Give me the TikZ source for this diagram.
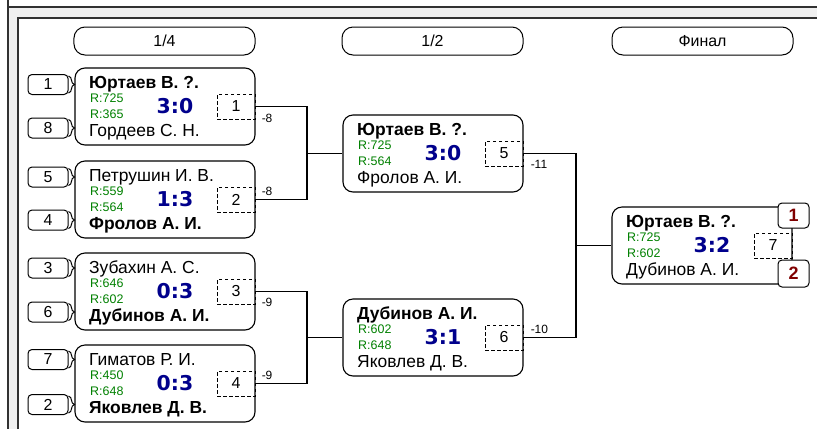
\documentclass[tikz,border=0pt]{standalone}
\usepackage{fontspec}
\setmainfont{Liberation Sans}
\newfontfamily\dvfont{DejaVu Sans}
\usetikzlibrary{decorations.pathreplacing}
\definecolor{ratg}{RGB}{0,128,0}
\definecolor{scb}{RGB}{0,0,140}
\definecolor{seedred}{RGB}{128,0,0}
\definecolor{framegray}{RGB}{240,240,240}
\definecolor{framel}{RGB}{50,50,50}
\tikzset{
 mbox/.style={draw, line width=1.1bp, rounded corners=10bp, minimum width=180bp, minimum height=77bp, inner sep=0pt},
 nmtxt/.style={anchor=base west, inner sep=0pt, text height=13bp, text depth=0bp, font=\fontsize{17.5}{19}\selectfont},
 rttxt/.style={anchor=base west, inner sep=0pt, text height=9bp, text depth=0bp, text=ratg, font=\fontsize{12.5}{14}\selectfont},
 sctxt/.style={anchor=base, inner sep=0pt, text height=15bp, text depth=0bp, text=scb, font=\dvfont\bfseries\fontsize{20.5}{22}\selectfont},
 dbox/.style={draw, dash pattern=on 3.5bp off 2.5bp, line width=1bp, minimum width=38bp, minimum height=25bp, inner sep=0pt, font=\fontsize{16}{18}\selectfont, anchor=east},
 seedbox/.style={draw, line width=1bp, rounded corners=4bp, minimum width=40bp, minimum height=20bp, inner sep=0pt, font=\fontsize{16}{18}\selectfont},
 pill/.style={draw, line width=1bp, rounded corners=11bp, minimum width=181bp, minimum height=28bp, inner sep=0pt, font=\fontsize{16}{18}\selectfont},
 lbl/.style={anchor=west, inner sep=0pt, font=\fontsize{12}{13}\selectfont},
 conn/.style={line width=1.1bp},
 brc/.style={decorate, decoration={brace, amplitude=6bp}, line width=1bp},
 fseed/.style={seedbox, minimum width=31bp, minimum height=25bp, fill=white, text=seedred, font=\bfseries\fontsize{18}{20}\selectfont},
}
\newcommand\mymatch[9]{%
 \node[mbox] (#1) at ({#2+90},{#3+38.5}) {};
 \node[nmtxt] (#1a) at ({#2+14},{#3+20.5}) {#4};
 \node[rttxt] (#1r) at ({#2+15},{#3+34}) {R:#6};
 \node[rttxt] (#1q) at ({#2+15},{#3+50}) {R:#7};
 \node[nmtxt] (#1b) at ({#2+14},{#3+68}) {#5};
 \node[sctxt] (#1s) at ({#2+100},{#3+45}) {#8};
 \node[dbox] (#1d) at (#1.east) {#9};
}
\begin{document}
\begin{tikzpicture}[x=1bp,y=-1bp]
\useasboundingbox (0,0) rectangle (817,429);
% frame
\fill[framegray] (8,7) rectangle (817,18);
\fill[framegray] (8,7) rectangle (18,429);
\draw[framel, line width=1.2bp] (8,0) -- (8,429);
\draw[framel, line width=1.2bp] (8,7) -- (817,7);
\draw[framel, line width=1.2bp] (18,429) -- (18,18) -- (817,18);
% headers
\node[pill] (h1) at (164.5,41) {1/4};
\node[pill] (h2) at (432.5,41) {1/2};
\node[pill] (h3) at (702.5,41) {Финал};
% matches
\mymatch{m1}{75}{68}{\textbf{Юртаев В. ?.}}{Гордеев С. Н.}{725}{365}{3:0}{1}
\mymatch{m2}{75}{161}{Петрушин И. В.}{\textbf{Фролов А. И.}}{559}{564}{1:3}{2}
\mymatch{m3}{75}{253}{Зубахин А. С.}{\textbf{Дубинов А. И.}}{646}{602}{0:3}{3}
\mymatch{m4}{75}{345}{Гиматов Р. И.}{\textbf{Яковлев Д. В.}}{450}{648}{0:3}{4}
\mymatch{m5}{343}{115}{\textbf{Юртаев В. ?.}}{Фролов А. И.}{725}{564}{3:0}{5}
\mymatch{m6}{343}{299}{\textbf{Дубинов А. И.}}{Яковлев Д. В.}{602}{648}{3:1}{6}
\mymatch{m7}{612}{207}{\textbf{Юртаев В. ?.}}{Дубинов А. И.}{725}{602}{3:2}{7}
% seeds
\node[seedbox] (s1) at (48,84.5) {1};
\node[seedbox] (s8) at (48,128) {8};
\node[seedbox] (s5) at (48,177) {5};
\node[seedbox] (s4) at (48,220) {4};
\node[seedbox] (s3) at (48,268) {3};
\node[seedbox] (s6) at (48,312) {6};
\node[seedbox] (s7) at (48,359.5) {7};
\node[seedbox] (s2) at (48,404.5) {2};
\foreach \s in {s1,s8,s5,s4,s3,s6,s7,s2}
  \draw[brc] ([yshift=-2bp]\s.north east) -- ([yshift=2bp]\s.south east);
% final seeds
\node[fseed] (f1) at (793.5,215.5) {1};
\node[fseed, minimum height=27bp] (f2) at (793.5,273.5) {2};
% connectors
\coordinate (j12) at (307,153.5);
\coordinate (j34) at (307,337.5);
\coordinate (j56) at (576,245.5);
\draw[conn] (m1.east) -| (j12);
\draw[conn] (m2.east) -| (j12);
\draw[conn] (j12) -- (m5.west);
\draw[conn] (m3.east) -| (j34);
\draw[conn] (m4.east) -| (j34);
\draw[conn] (j34) -- (m6.west);
\draw[conn] (m5.east) -| (j56);
\draw[conn] (m6.east) -| (j56);
\draw[conn] (j56) -- (m7.west);
% labels
\node[lbl] (l1) at ([xshift=6bp,yshift=-12bp]m1.east) {-8};
\node[lbl] (l2) at ([xshift=6bp,yshift=8bp]m2.east) {-8};
\node[lbl] (l3) at ([xshift=6bp,yshift=-11bp]m3.east) {-9};
\node[lbl] (l4) at ([xshift=6bp,yshift=8bp]m4.east) {-9};
\node[lbl] (l5) at ([xshift=7bp,yshift=-11bp]m5.east) {-11};
\node[lbl] (l6) at ([xshift=7bp,yshift=8bp]m6.east) {-10};
\end{tikzpicture}
\end{document}
